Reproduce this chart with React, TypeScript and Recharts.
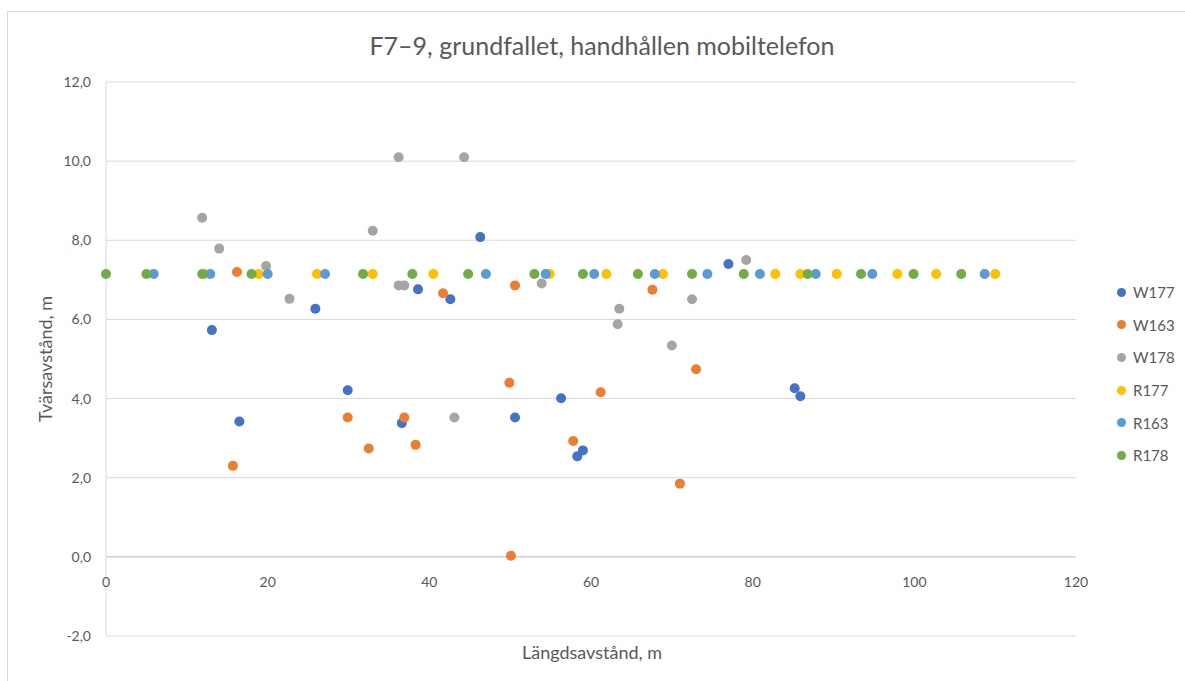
import { ScatterChart, Scatter, XAxis, YAxis, CartesianGrid, ReferenceLine } from 'recharts';

// measured points, [längd, tvärs]
const W177 = [
  [13.1, 5.73], [16.5, 3.42], [25.9, 6.27], [29.9, 4.21], [36.6, 3.38],
  [38.6, 6.76], [42.6, 6.51], [46.3, 8.08], [50.6, 3.52], [56.3, 4.01],
  [58.3, 2.54], [59.0, 2.69], [77.0, 7.4], [85.2, 4.26], [85.9, 4.06]
];
const W163 = [
  [15.7, 2.3], [16.2, 7.2], [29.9, 3.52], [32.5, 2.74], [36.9, 3.52],
  [38.3, 2.83], [41.7, 6.66], [49.9, 4.4], [50.1, 0.03], [50.6, 6.86],
  [57.8, 2.93], [61.2, 4.16], [67.6, 6.75], [71.0, 1.85], [73.0, 4.74]
];
const W178 = [
  [11.9, 8.57], [14.0, 7.79], [19.8, 7.35], [22.7, 6.52], [33.0, 8.24],
  [36.2, 10.1], [36.2, 6.86], [36.9, 6.86], [43.1, 3.52], [44.3, 10.1],
  [53.9, 6.91], [63.3, 5.88], [63.5, 6.27], [70.0, 5.34], [72.5, 6.51], [79.2, 7.5]
];

// reference rows all sit on the same lateral distance
const R_LEVEL = 7.15;
const R177_X = [12.2, 18.9, 26.1, 33.0, 40.5, 54.9, 61.9, 68.9, 82.8, 85.9, 90.4, 97.9, 102.7, 110.0];
const R163_X = [5.9, 12.9, 20.0, 27.1, 47.0, 54.4, 60.4, 67.9, 74.4, 80.9, 87.8, 94.8, 108.7];
const R178_X = [0, 5.0, 11.9, 18.0, 31.8, 37.9, 44.8, 53.0, 59.0, 65.8, 72.5, 78.9, 86.8, 93.4, 99.9, 105.8];

const X_TICKS = [0, 20, 40, 60, 80, 100, 120];
const Y_TICKS = [-2, 0, 2, 4, 6, 8, 10, 12];

const pairs = (arr: number[][]) => arr.map(([x, y]) => ({ x, y }));
const row = (xs: number[]) => xs.map((x) => ({ x, y: R_LEVEL }));

const SERIES = [
  { name: 'W177', color: '#4472C4', data: pairs(W177) },
  { name: 'W163', color: '#ED7D31', data: pairs(W163) },
  { name: 'W178', color: '#A5A5A5', data: pairs(W178) },
  { name: 'R177', color: '#FFC000', data: row(R177_X) },
  { name: 'R163', color: '#5B9BD5', data: row(R163_X) },
  { name: 'R178', color: '#70AD47', data: row(R178_X) }
];

const FONT = 'Lato, "Open Sans", sans-serif';
const TEXT = '#595959';
const GRID = '#D9D9D9';

const W = 1185;
const H = 681;
const MARGIN = { top: 82, right: 109, bottom: 15, left: 0 };
const Y_AXIS_W = 106;
const X_AXIS_H = 30;
const PLOT_H = H - MARGIN.top - MARGIN.bottom - X_AXIS_H;
const Y_MIN = -2;
const Y_MAX = 12;
// x labels hang under the zero line, not under the bottom edge
const ZERO_LIFT = (PLOT_H * (0 - Y_MIN)) / (Y_MAX - Y_MIN);

const fmtY = (v: number) => v.toFixed(1).replace('.', ',');

function XTick(props: any) {
  const { x, y, payload } = props;
  return (
    <text x={x} y={y - ZERO_LIFT + 30} textAnchor="middle" fill={TEXT} fontSize={14} fontFamily={FONT}>
      {payload.value}
    </text>
  );
}

const dot = (color: string) => (p: any) => <circle cx={p.cx} cy={p.cy} r={5} fill={color} />;

export default function App() {
  return (
    <div style={{ position: 'relative', width: W, height: H, fontFamily: FONT, background: '#fff' }}>
      <style>{'body{margin:0}'}</style>
      <div
        style={{
          position: 'absolute', left: 7, top: 11, width: W, height: H,
          border: `1px solid ${GRID}`, boxSizing: 'border-box'
        }}
      />
      <div
        style={{
          position: 'absolute', left: 0, width: 1204, top: 29, lineHeight: '32px', textAlign: 'center',
          fontSize: 25, color: TEXT
        }}
      >
        F7–9, grundfallet, handhållen mobiltelefon
      </div>
      <div
        style={{
          position: 'absolute', left: 45, top: 359, transform: 'translate(-50%, -50%) rotate(-90deg)',
          fontSize: 18, color: TEXT, whiteSpace: 'nowrap'
        }}
      >
        Tvärsavstånd, m
      </div>
      <div
        style={{
          position: 'absolute', left: 592, top: 652, transform: 'translate(-50%, -50%)',
          fontSize: 18, color: TEXT, whiteSpace: 'nowrap'
        }}
      >
        Längdsavstånd, m
      </div>

      <div style={{ position: 'absolute', left: 0, top: 0 }}>
        <ScatterChart width={W} height={H} margin={MARGIN}>
          <CartesianGrid vertical={false} stroke={GRID} />
          <XAxis
            type="number"
            dataKey="x"
            domain={[0, 120]}
            ticks={X_TICKS}
            axisLine={false}
            tickLine={false}
            tickSize={0}
            tickMargin={0}
            height={X_AXIS_H}
            tick={<XTick />}
          />
          <YAxis
            type="number"
            dataKey="y"
            domain={[Y_MIN, Y_MAX]}
            ticks={Y_TICKS}
            width={Y_AXIS_W}
            axisLine={{ stroke: GRID }}
            tickLine={false}
            tickSize={0}
            tickMargin={15}
            tickFormatter={fmtY}
            tick={{ fill: TEXT, fontSize: 14, fontFamily: FONT }}
          />
          <ReferenceLine y={0} stroke="#C9C9C9" />
          {SERIES.map((s) => (
            <Scatter
              key={s.name}
              name={s.name}
              data={s.data}
              fill={s.color}
              shape={dot(s.color)}
              isAnimationActive={false}
            />
          ))}
        </ScatterChart>
      </div>

      <div style={{ position: 'absolute', left: 1117, top: 276 }}>
        {SERIES.map((s) => (
          <div key={s.name} style={{ display: 'flex', alignItems: 'center', height: 32.6, fontSize: 15, color: TEXT }}>
            <span
              style={{ width: 9, height: 9, borderRadius: '50%', background: s.color, marginRight: 7, display: 'inline-block' }}
            />
            {s.name}
          </div>
        ))}
      </div>
    </div>
  );
}
